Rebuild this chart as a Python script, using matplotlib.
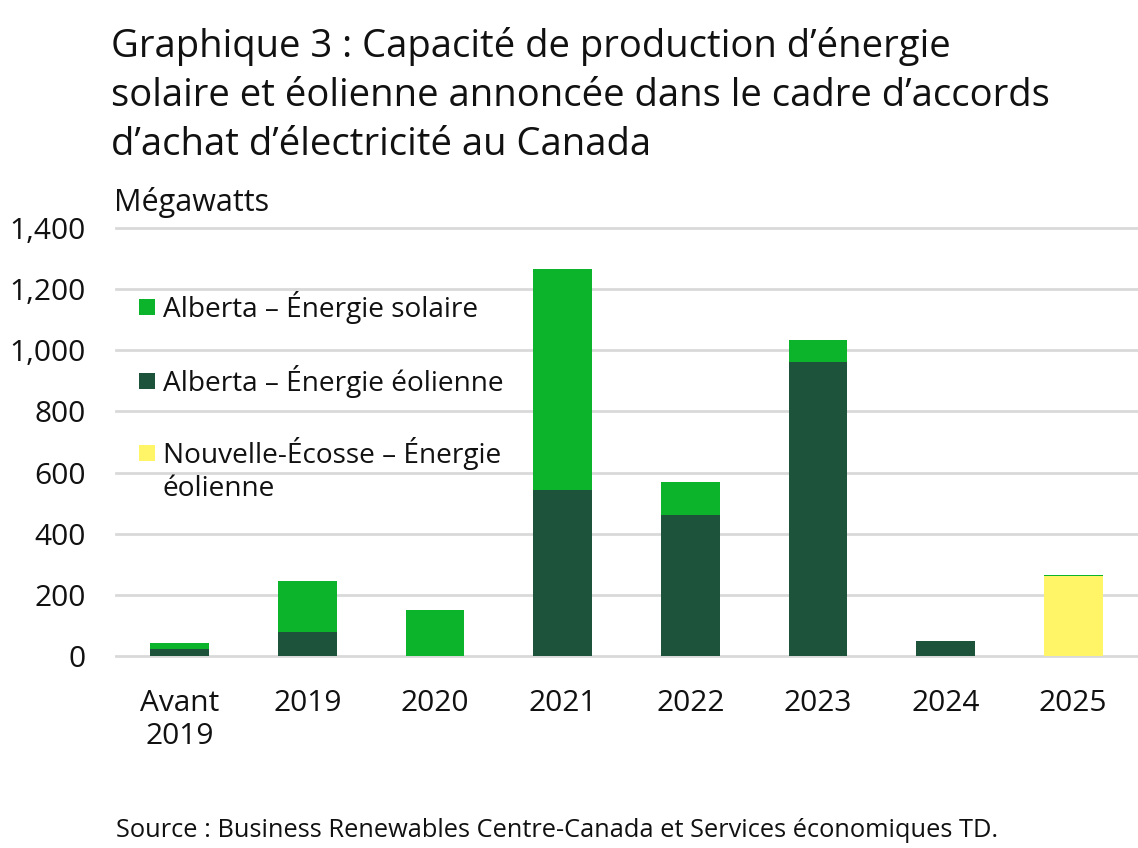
import matplotlib
matplotlib.use("Agg")
import matplotlib.pyplot as plt
from matplotlib.patches import Rectangle
import numpy as np

plt.rcParams['font.family'] = ['Open Sans', 'DejaVu Sans']

categories = ["Avant\n2019", "2019", "2020", "2021", "2022", "2023", "2024", "2025"]
ab_wind = [24, 78, 0, 543, 461, 962, 49, 0]
ab_solar = [18, 167, 150, 723, 108, 72, 0, 3]
ns_wind = [0, 0, 0, 0, 0, 0, 0, 262]
yticks = [0, 200, 400, 600, 800, 1000, 1200, 1400]
series_names = ["Alberta – Énergie solaire", "Alberta – Énergie éolienne",
                "Nouvelle-Écosse – Énergie\néolienne"]
title_lines = ["Graphique 3 : Capacité de production d’énergie",
               "solaire et éolienne annoncée dans le cadre d’accords",
               "d’achat d’électricité au Canada"]
colors = ["#0BB42B", "#1C533A", "#FFF566"]

W, H = 1138, 848
fig = plt.figure(figsize=(W / 100, H / 100), dpi=100)
ax = fig.add_axes([116 / W, 1 - 656 / H, (1137 - 116) / W, (656 - 228) / H])

x = np.arange(len(categories))
bw = 0.46
ab_wind_a = np.array(ab_wind)
ns_a = np.array(ns_wind)
ax.bar(x, ab_wind_a, bw, color=colors[1], zorder=3)
ax.bar(x, ns_a, bw, bottom=ab_wind_a, color=colors[2], zorder=3)
ax.bar(x, ab_solar, bw, bottom=ab_wind_a + ns_a, color=colors[0], zorder=3)

ax.set_xlim(-0.5, len(categories) - 0.5)
ax.set_ylim(0, 1400)
ax.set_yticks(yticks)
ax.set_yticklabels([f"{v:,}" for v in yticks])
ax.set_xticks(x)
ax.set_xticklabels(categories, linespacing=1.15)
for v in yticks:
    ax.axhline(v, color="#D9D9D9", lw=2.0, zorder=1, clip_on=False)
for s in ax.spines.values():
    s.set_visible(False)
ax.tick_params(axis='both', length=0, labelsize=21.5, colors="#111111")
ax.tick_params(axis='y', pad=22)
ax.tick_params(axis='x', pad=24)

# Title
for i, line in enumerate(title_lines):
    fig.text(111 / W, 1 - (57 + 49 * i) / H, line, fontsize=27.5, va='baseline',
             ha='left', color="#111111")
fig.text(114 / W, 1 - 211 / H, "Mégawatts", fontsize=22, va='baseline', ha='left', color="#111111")
fig.text(116 / W, 1 - 837 / H,
         "Source : Business Renewables Centre-Canada et Services économiques TD.",
         fontsize=18.3, va='baseline', ha='left', color="#111111")

# Legend
leg_y = [307, 381, 453]
for c, name, yy in zip(colors, series_names, leg_y):
    fig.patches.append(Rectangle((139 / W, 1 - (yy + 8) / H), 16 / W, 16 / H,
                                 transform=fig.transFigure, facecolor=c, edgecolor='none'))
    fig.text(163 / W, 1 - (yy - 16) / H, name, fontsize=20.2, va='top', ha='left',
             linespacing=1.25, color="#111111")

fig.savefig("out.png", dpi=100)
